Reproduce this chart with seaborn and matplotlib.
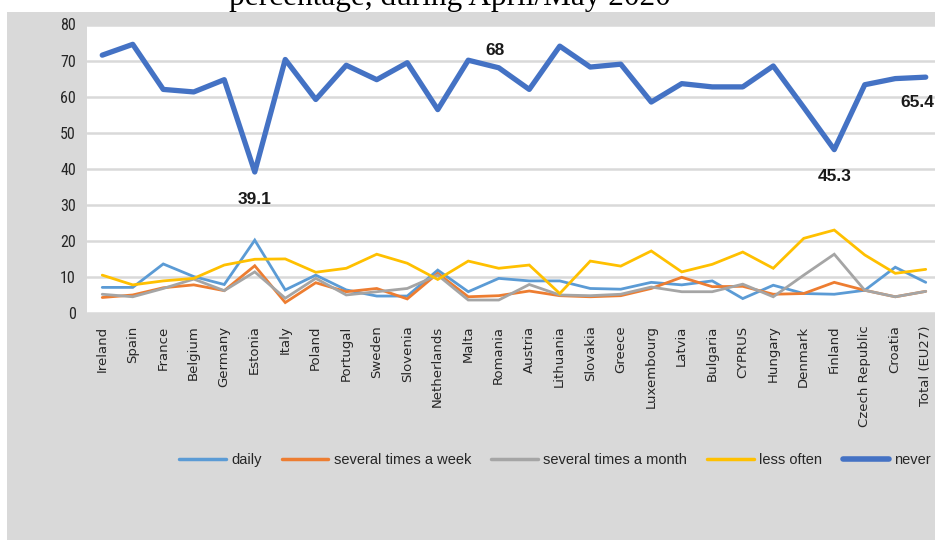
import matplotlib
matplotlib.use("Agg")
import matplotlib.pyplot as plt
from matplotlib import font_manager
from matplotlib.lines import Line2D
from matplotlib.patches import Rectangle
import seaborn as sns
import pandas as pd
import numpy as np

countries = ["Ireland", "Spain", "France", "Belgium", "Germany", "Estonia", "Italy",
             "Poland", "Portugal", "Sweden", "Slovenia", "Netherlands", "Malta",
             "Romania", "Austria", "Lithuania", "Slovakia", "Greece", "Luxembourg",
             "Latvia", "Bulgaria", "CYPRUS", "Hungary", "Denmark", "Finland",
             "Czech Republic", "Croatia", "Total (EU27)"]

daily = [7.1, 7.1, 13.6, 10.1, 7.9, 20.2, 6.4, 10.5, 6.4, 4.7, 4.7, 11.9, 5.9, 9.6,
         8.9, 8.9, 6.8, 6.6, 8.5, 7.8, 8.9, 4.0, 7.7, 5.4, 5.2, 6.3, 12.7, 8.5]
weekly = [4.3, 5.0, 7.0, 7.8, 6.2, 13.1, 2.9, 8.4, 5.9, 6.8, 3.9, 11.0, 4.5, 4.8,
          6.1, 4.8, 4.5, 4.8, 6.8, 9.9, 7.3, 7.4, 5.2, 5.4, 8.5, 6.3, 4.5, 6.0]
monthly = [5.2, 4.5, 6.8, 9.4, 6.2, 11.4, 4.1, 9.6, 5.0, 5.9, 6.8, 10.5, 3.6, 3.6,
           7.9, 5.0, 4.8, 5.2, 7.2, 5.9, 5.9, 8.0, 4.5, 10.5, 16.3, 6.3, 4.5, 6.0]
less_often = [10.5, 7.8, 8.9, 9.6, 13.3, 14.9, 15.0, 11.3, 12.4, 16.3, 13.8, 9.3, 14.4,
              12.4, 13.3, 5.4, 14.4, 13.0, 17.2, 11.4, 13.5, 16.9, 12.4, 20.7, 23.0,
              16.1, 11.0, 12.1]
never = [71.5, 74.5, 62.0, 61.3, 64.7, 39.1, 70.3, 59.2, 68.7, 64.7, 69.4, 56.4, 70.1,
         68.0, 62.0, 74.0, 68.2, 69.0, 58.5, 63.6, 62.7, 62.7, 68.5, 57.0, 45.3, 63.3,
         65.0, 65.4]

series_names = ["daily", "several times a week", "several times a month", "less often", "never"]
series_values = [daily, weekly, monthly, less_often, never]
colors = ["#5B9BD5", "#ED7D31", "#A5A5A5", "#FFC000", "#4472C4"]
widths = [2.0, 2.0, 2.0, 2.0, 3.8]
y_ticks = [0, 10, 20, 30, 40, 50, 60, 70, 80]
labelled = {"Estonia": (0, -20, "39.1"), "Romania": (-3, 12.5, "68"),
            "Finland": (0, -19, "45.3"), "Total (EU27)": (-6, -18, "65.4")}

available = {f.name for f in font_manager.fontManager.ttflist}
def pick(*names):
    for n in names:
        if n in available:
            return n
    return "DejaVu Sans"

narrow = pick("Liberation Sans Narrow", "Roboto Condensed", "Liberation Sans")
sans = pick("Liberation Sans", "DejaVu Sans")
serif = pick("Liberation Serif", "DejaVu Serif")

sns.set_theme(style="white")
plt.rcParams["font.family"] = ["DejaVu Sans"]

GRAY = "#D9D9D9"
fig = plt.figure(figsize=(9.35, 5.4), dpi=100)
fig.patch.set_facecolor("white")
fig.add_artist(Rectangle((7 / 935, 0), 1, (540 - 12) / 540, transform=fig.transFigure,
                         facecolor=GRAY, edgecolor="none", zorder=0))

ax = fig.add_axes([87 / 935, 227 / 540, (941 - 87) / 935, 288.5 / 540])
ax.set_facecolor("white")

rows = []
for name, vals in zip(series_names, series_values):
    for i, (c, v) in enumerate(zip(countries, vals)):
        rows.append({"pos": i, "country": c, "series": name, "value": v})
df = pd.DataFrame(rows)

for name, col, lw in zip(series_names, colors, widths):
    sub = df[df["series"] == name]
    sns.lineplot(data=sub, x="pos", y="value", color=col, linewidth=lw, ax=ax,
                 legend=False, solid_joinstyle="miter" if name != "never" else "round")

ax.set_xlim(-0.5, len(countries) - 0.5)
ax.set_ylim(0, 80)
ax.set_yticks(y_ticks)
ax.set_yticklabels([str(t) for t in y_ticks], fontsize=11.5, family=[narrow, "DejaVu Sans"])
ax.set_xticks(range(len(countries)))
ax.set_xticklabels(countries, rotation=90, fontsize=9.5, va="top", ha="center")
ax.tick_params(axis="x", length=0, pad=9)
ax.tick_params(axis="y", length=0, pad=8)
ax.yaxis.grid(True, color=GRAY, linewidth=1.8)
ax.set_axisbelow(True)
for s in ax.spines.values():
    s.set_visible(False)
ax.set_xlabel("")
ax.set_ylabel("")

for c, (dx, dy, txt) in labelled.items():
    i = countries.index(c)
    ax.annotate(txt, (i, never[i]), xytext=(dx, dy), textcoords="offset points",
                ha="center", va="center", fontsize=12.5, fontweight="bold",
                family=[sans, "DejaVu Sans"], color="#1a1a1a",
                annotation_clip=False)

fig.text(450 / 935, 1 - 5 / 540, "percentage, during April/May 2020", ha="center",
         va="baseline", fontsize=22.5, family=[serif, "DejaVu Serif"], color="black")

handles = [Line2D([], [], color=c, linewidth=(2.5 if n != "never" else 4.0))
           for n, c in zip(series_names, colors)]
fig.legend(handles, series_names, loc="center left", bbox_to_anchor=(166 / 935, 1 - 460 / 540),
           ncol=5, frameon=False, handlelength=3.2, handletextpad=0.35, columnspacing=1.4,
           prop={"family": [sans, "DejaVu Sans"], "size": 10.5})

fig.savefig("out.png", dpi=100, facecolor=fig.get_facecolor())
